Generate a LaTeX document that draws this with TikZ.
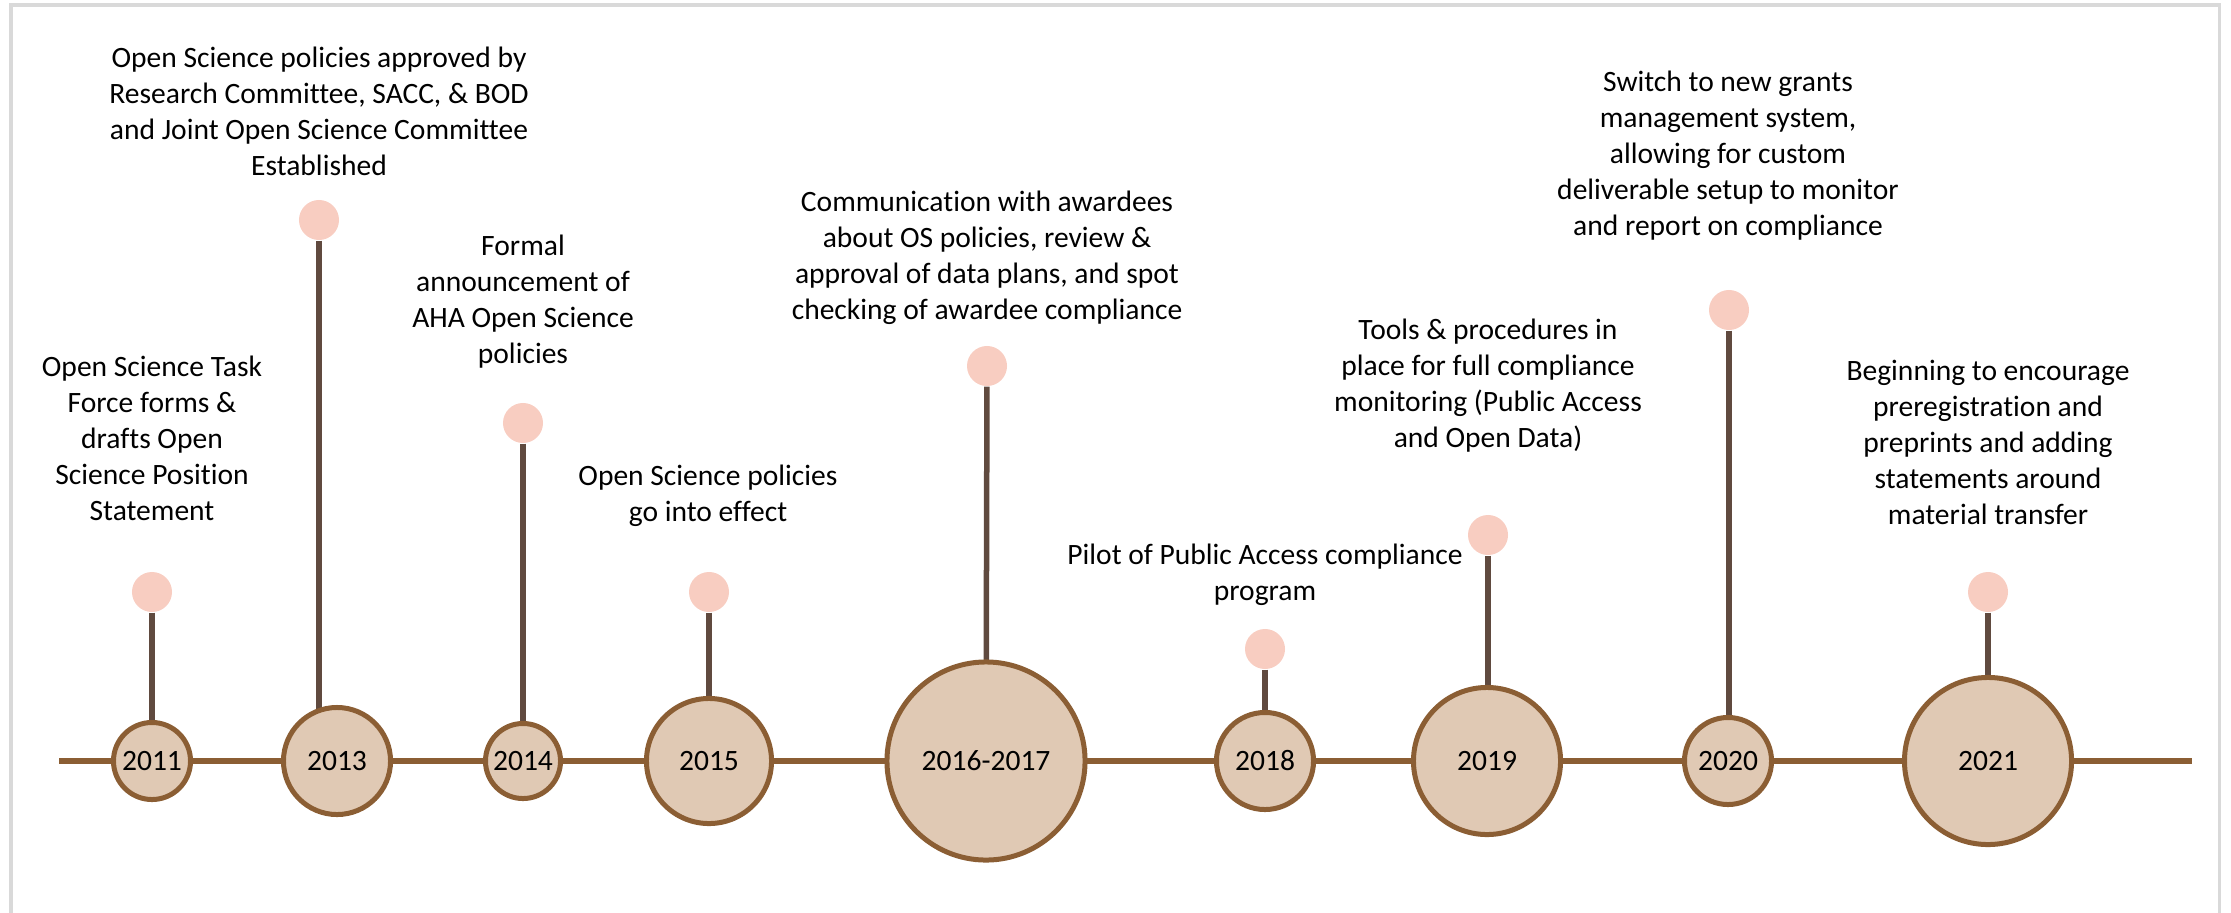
\documentclass[tikz,border=0pt]{standalone}
\usepackage{fontspec}
\setmainfont{Carlito}[Ligatures=NoCommon]
\usepackage{xcolor}
\definecolor{timeline-brown}{HTML}{8B5E34}
\definecolor{timeline-tan}{HTML}{E0C9B4}
\definecolor{stem-brown}{HTML}{604A3F}
\definecolor{knob-pink}{HTML}{F8CDC1}
\definecolor{frame-grey}{HTML}{D9D9D9}
\usepackage{tikz}
\usetikzlibrary{backgrounds}

\tikzset{
    yearnode/.style={circle, draw=timeline-brown, line width=0.05cm, fill=timeline-tan, inner sep=0pt, font=\fontsize{8.4}{10.24}\selectfont},
    knob/.style={circle, fill=knob-pink, minimum size=0.4cm, inner sep=0pt},
    stemline/.style={stem-brown, line width=0.055cm},
    timeline/.style={timeline-brown, line width=0.06cm},
    eventtext/.style={align=center, inner sep=0pt, font=\fontsize{8.4}{10.24}\selectfont},
}

\begin{document}
\begin{tikzpicture}[x=0.01cm, y=-0.01cm]

    \useasboundingbox (0, 0) rectangle (2231, 912);

    % Frame
    \draw[frame-grey, line width=0.03cm] (11, 940) -- (11, 5) -- (2219, 5) -- (2219, 940);

    % Years
    \node[yearnode, minimum size=0.77cm] (y2011) at (152, 761) {2011};
    \node[yearnode, minimum size=1.07cm] (y2013) at (337, 761) {2013};
    \node[yearnode, minimum size=0.75cm] (y2014) at (523, 761) {2014};
    \node[yearnode, minimum size=1.25cm] (y2015) at (709, 761) {2015};
    \node[yearnode, minimum size=1.98cm] (y2016) at (986, 761) {2016-2017};
    \node[yearnode, minimum size=0.97cm] (y2018) at (1265, 761) {2018};
    \node[yearnode, minimum size=1.47cm] (y2019) at (1487, 761) {2019};
    \node[yearnode, minimum size=0.87cm] (y2020) at (1728, 761) {2020};
    \node[yearnode, minimum size=1.67cm] (y2021) at (1988, 761) {2021};

    % Knobs
    \node[knob] (k2011) at (152, 592) {};
    \node[knob] (k2013) at (319, 220) {};
    \node[knob] (k2014) at (523, 423) {};
    \node[knob] (k2015) at (709, 592) {};
    \node[knob] (k2016) at (987, 366) {};
    \node[knob] (k2018) at (1265, 649) {};
    \node[knob] (k2019) at (1488, 535) {};
    \node[knob] (k2020) at (1729, 310) {};
    \node[knob] (k2021) at (1988, 592) {};

    % Line and stems
    \coordinate (start) at (59, 761);
    \coordinate (end) at (2192, 761);
    \begin{scope}[on background layer]
        \draw[timeline] (start) -- (end);
        \draw[stemline] (k2011) -- (y2011.center);
        \draw[stemline] (k2013) -- (k2013 |- y2013.center);
        \draw[stemline] (k2014) -- (y2014.center);
        \draw[stemline] (k2015) -- (y2015.center);
        \draw[stemline] (k2016) -- (y2016.center);
        \draw[stemline] (k2018) -- (y2018.center);
        \draw[stemline] (k2019) -- (k2019 |- y2019.center);
        \draw[stemline] (k2020) -- (k2020 |- y2020.center);
        \draw[stemline] (k2021) -- (y2021.center);
    \end{scope}

    % Events
    \node[eventtext] (t2011) at (152, 438.5) {Open Science Task\\Force forms \&\\drafts Open\\Science Position\\Statement};
    \node[eventtext] (t2013) at (319, 111) {Open Science policies approved by\\Research Committee, SACC, \& BOD\\and Joint Open Science Committee\\Established};
    \node[eventtext] (t2014) at (523, 301.5) {Formal\\announcement of\\AHA Open Science\\policies};
    \node[eventtext] (t2015) at (708, 496) {Open Science policies\\go into effect};
    \node[eventtext] (t2016) at (987, 257.5) {Communication with awardees\\about OS policies, review \&\\approval of data plans, and spot\\checking of awardee compliance};
    \node[eventtext] (t2018) at (1265, 575) {Pilot of Public Access compliance\\program};
    \node[eventtext] (t2019) at (1488, 385.5) {Tools \& procedures in\\place for full compliance\\monitoring (Public Access\\and Open Data)};
    \node[eventtext] (t2020) at (1728, 155.5) {Switch to new grants\\management system,\\allowing for custom\\deliverable setup to monitor\\and report on compliance};
    \node[eventtext] (t2021) at (1988, 442) {Beginning to encourage\\preregistration and\\preprints and adding\\statements around\\material transfer};

\end{tikzpicture}
\end{document}
